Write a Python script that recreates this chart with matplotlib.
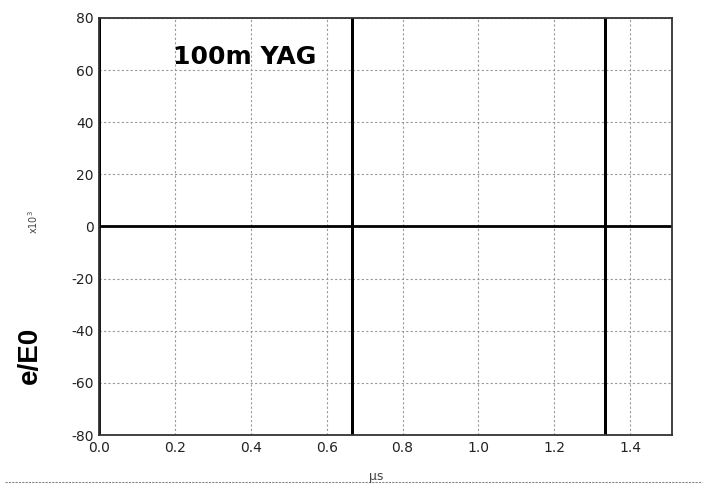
import matplotlib
matplotlib.use("Agg")
import matplotlib.pyplot as plt
import numpy as np

# Data: pulse train (thin spikes) on a zero baseline
time_us = [0.0, 0.0, 0.0, 0.667, 0.667, 0.667, 0.667, 1.333, 1.333, 1.333, 1.333, 1.51]
signal = [-1000, 1000, 0, 0, 1000, -1000, 0, 0, 1000, -1000, 0, 0]
xticks = [0.0, 0.2, 0.4, 0.6, 0.8, 1.0, 1.2, 1.4]
yticks = [-80, -60, -40, -20, 0, 20, 40, 60, 80]

plt.rcParams['font.family'] = ['DejaVu Sans']

fig = plt.figure(figsize=(7.07, 4.9), dpi=100)
ax = fig.add_axes([99/707, 1-435/490, (672-99)/707, (435-18)/490])

ax.plot(time_us, signal, color='black', lw=2.0)

ax.set_xlim(0, 1.51)
ax.set_ylim(-80, 80)
ax.set_xticks(xticks)
ax.set_xticklabels([f"{v:.1f}" for v in xticks])
ax.set_yticks(yticks)
ax.set_yticklabels([str(v) for v in yticks])
ax.tick_params(labelsize=10, length=0, pad=4, colors='#222222')
ax.grid(True, color='#999999', linestyle=(0, (2, 2)), lw=0.8)
for s in ax.spines.values():
    s.set_color('#333333')
    s.set_linewidth(1.3)

ax.text(0.384, 65, "100m YAG", fontsize=18, fontweight='bold', ha='center', va='center')

fig.text(33/707, 1-222/490, r"x10$^3$", fontsize=7, rotation=90, ha='center', va='center', color='#444444')
fig.text(30/707, 1-355/490, "e/E0", fontsize=20, fontweight='bold', rotation=90, ha='center', va='center',
         family=['Liberation Sans Narrow', 'Liberation Sans', 'DejaVu Sans'])
fig.text(376/707, 1-476/490, "µs", fontsize=9, ha='center', va='center', color='#444444')
fig.add_artist(plt.Line2D([5/707, 702/707], [1-482/490, 1-482/490], transform=fig.transFigure,
                          color='#888888', lw=0.8, linestyle=(0, (2, 1))))

fig.savefig("out.png", dpi=100)
